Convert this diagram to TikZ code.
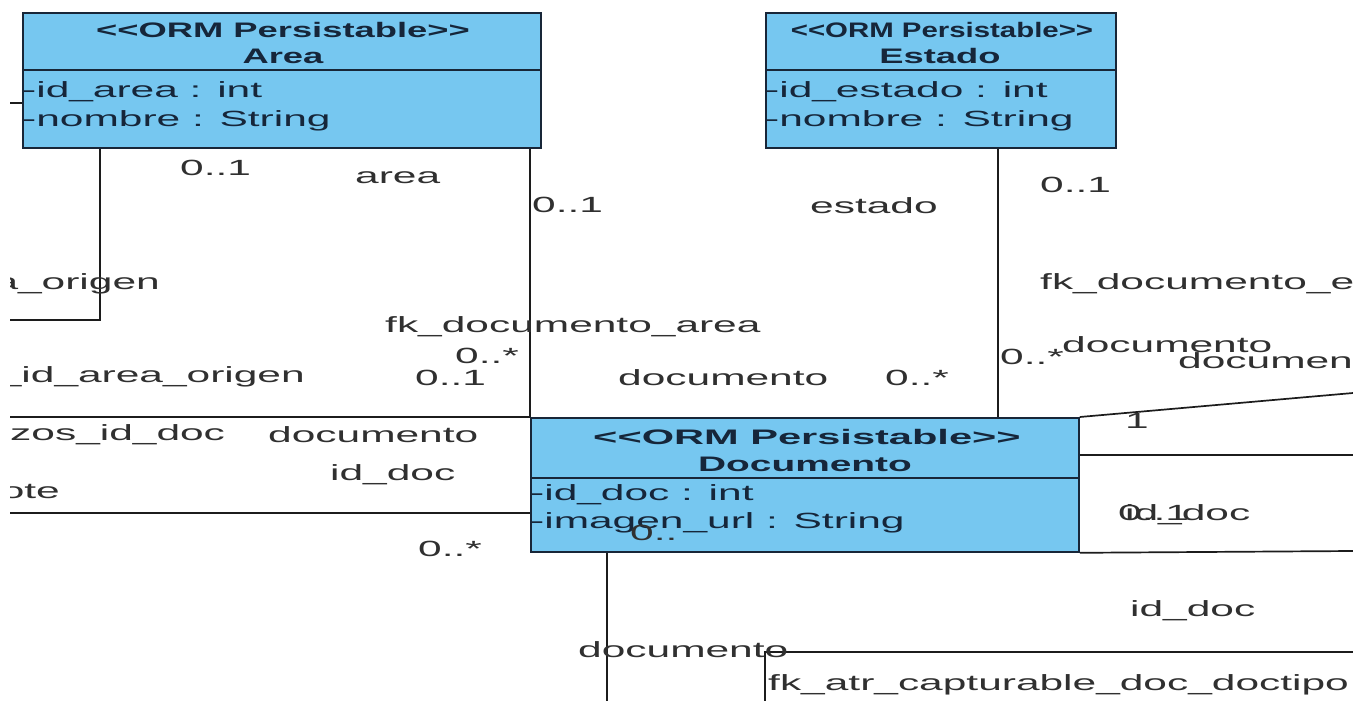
\documentclass[tikz,border=0pt]{standalone}
\usepackage{fontspec}
\setmainfont{Liberation Sans}
\usepackage{graphicx}
\usetikzlibrary{calc}
\definecolor{clsfill}{RGB}{118,199,240}
\definecolor{clsline}{RGB}{24,38,56}
\definecolor{hdrtext}{RGB}{22,38,58}
\definecolor{lbltext}{RGB}{48,48,48}
\definecolor{wirecol}{RGB}{28,28,28}
% wide-set labels
\newcommand\stretchlbl[1]{\scalebox{1.93}[1]{#1}}
\newcommand\stretchhdr[2][1.73]{\scalebox{#1}[1]{#2}}
\begin{document}
\begin{tikzpicture}[x=1pt,y=-1pt,
  cls/.style={draw=clsline, line width=1.8pt, fill=clsfill, inner sep=0pt, anchor=north west},
  divider/.style={draw=clsline, line width=1.8pt},
  hdr/.style={font=\fontsize{21}{23}\selectfont\bfseries, text=hdrtext, inner sep=0pt, anchor=base},
  attr/.style={font=\fontsize{22}{24}\selectfont, text=hdrtext, inner sep=0pt, anchor=base west},
  lbl/.style={font=\fontsize{22}{24}\selectfont, text=lbltext, inner sep=0pt, anchor=base west},
  lblr/.style={lbl, anchor=base east},
  wire/.style={draw=wirecol, line width=1.7pt}]
\useasboundingbox[fill=white] (0,0) rectangle (1353,701);
\begin{scope}
\clip (10,0) rectangle (1353,701);

% ---- free ends of the connectors
\coordinate (wL1) at (10,103);
\coordinate (wL2) at (10,320);
\coordinate (wL3) at (10,417);
\coordinate (wL4) at (10,513);
\coordinate (wR1) at (1353,393);
\coordinate (wR2) at (1353,455);
\coordinate (wR3) at (1353,551);
\coordinate (wB1) at (607,701);
\coordinate (wB2) at (765,701);
\coordinate (wR4) at (1353,652);

% ---- classes
\node[cls, minimum width=518pt, minimum height=135pt] (area) at (22,12) {};
\node[cls, minimum width=350pt, minimum height=135pt] (estado) at (765,12) {};
\node[cls, minimum width=548pt, minimum height=134pt] (doc) at (530,417) {};

\draw[divider] ([yshift=-58pt]area.north west) -- ([yshift=-58pt]area.north east);
\draw[divider] ([yshift=-58pt]estado.north west) -- ([yshift=-58pt]estado.north east);
\draw[divider] ([yshift=-61pt]doc.north west) -- ([yshift=-61pt]doc.north east);

\node[hdr] (areaSt) at (283,38) {\stretchhdr{{<}{<}ORM Persistable{>}{>}}};
\node[hdr] (areaNm) at (283,64) {\stretchhdr{Area}};
\node[attr] (areaA1) at (22,98) {\stretchlbl{-id\_area : int}};
\node[attr] (areaA2) at (22,126) {\stretchlbl{-nombre : String}};

\node[hdr] (estSt) at (942,38) {\stretchhdr[1.4]{{<}{<}ORM Persistable{>}{>}}};
\node[hdr] (estNm) at (940,64) {\stretchhdr{Estado}};
\node[attr] (estA1) at (765,98) {\stretchlbl{-id\_estado : int}};
\node[attr] (estA2) at (765,126) {\stretchlbl{-nombre : String}};

\node[hdr] (docSt) at (807,444) {\stretchhdr[1.98]{{<}{<}ORM Persistable{>}{>}}};
\node[hdr] (docNm) at (805,471) {\stretchhdr[1.85]{Documento}};
\node[attr] (docA1) at (530,500) {\stretchlbl{-id\_doc : int}};
\node[attr] (docA2) at (530,528) {\stretchlbl{-imagen\_url : String}};

% ---- connectors
\draw[wire] (wL1) -- (area.west |- wL1);
\coordinate (areaOut) at ($(area.south west)+(78,0)$);
\draw[wire] (areaOut) -- (areaOut |- wL2) -- (wL2);
\coordinate (areaDoc) at ($(area.south west)+(508,0)$);
\draw[wire] (areaDoc) -- (doc.north west);
\coordinate (estDoc) at ($(estado.south west)+(233,0)$);
\draw[wire] (estDoc) -- (estDoc |- doc.north);
\draw[wire] (wL3) -- (doc.north west);
\draw[wire] (wL4) -- (doc.west |- wL4);
\draw[wire] (doc.north east) -- (wR1);
\draw[wire] (doc.east |- wR2) -- (wR2);
\draw[wire] (doc.south east) -- (wR3);
\draw[wire] (doc.south -| wB1) -- (wB1);
\draw[wire] (wB2) -- (wB2 |- wR4) -- (wR4);

% ---- role names and multiplicities
\node[lbl] (m1) at (180,175) {\stretchlbl{0..1}};
\node[lbl] (r1) at (355,183) {\stretchlbl{area}};
\node[lbl] (m2) at (532,212) {\stretchlbl{0..1}};
\node[lbl] (r2) at (810,213) {\stretchlbl{estado}};
\node[lbl] (m3) at (1040,192) {\stretchlbl{0..1}};
\node[lblr] (fk1) at (160,289) {\stretchlbl{area\_origen}};
\node[lbl] (fk2) at (1040,289) {\stretchlbl{fk\_documento\_estado}};
\node[lbl] (fk3) at (385,332) {\stretchlbl{fk\_documento\_area}};
\node[lbl] (m4) at (455,363) {\stretchlbl{0..*}};
\node[lbl] (m5) at (415,385) {\stretchlbl{0..1}};
\node[lblr] (fk4) at (305,382) {\stretchlbl{documento\_id\_area\_origen}};
\node[lbl] (r3) at (1062,352) {\stretchlbl{documento}};
\node[lbl] (m6) at (1000,364) {\stretchlbl{0..*}};
\node[lbl] (r4) at (1178,368) {\stretchlbl{documento}};
\node[lbl] (r5) at (618,385) {\stretchlbl{documento}};
\node[lbl] (m7) at (885,385) {\stretchlbl{0..*}};
\node[lbl] (fk5) at (10,440) {\stretchlbl{zos\_id\_doc}};
\node[lbl] (r6) at (268,442) {\stretchlbl{documento}};
\node[lbl] (r7) at (330,480) {\stretchlbl{id\_doc}};
\node[lblr] (fk6) at (60,498) {\stretchlbl{lote}};
\node[lbl] (m8) at (418,556) {\stretchlbl{0..*}};
\node[lbl] (m9) at (1125,428) {\stretchlbl{1}};
\node[lbl] (m10) at (1118,520) {\stretchlbl{0..1}};
\node[lbl] (r8) at (1125,520) {\stretchlbl{id\_doc}};
\node[lbl] (m11) at (630,540) {\stretchlbl{0..}};
\node[lbl] (r9) at (1130,616) {\stretchlbl{id\_doc}};
\node[lbl] (r10) at (578,657) {\stretchlbl{documento}};
\node[lbl] (fk7) at (768,690) {\stretchlbl{fk\_atr\_capturable\_doc\_doctipo}};
\end{scope}
\end{tikzpicture}
\end{document}
